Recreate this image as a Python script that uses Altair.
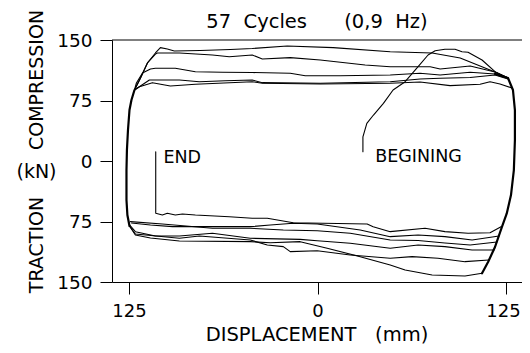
import altair as alt
import pandas as pd

# ---- data: displacement (mm) / load (kN) ----
# upper (compression) branches, left -> right
top_a_x = [-121.4, -117.4, -112.8, -107.5, -104.2, -99.6, -95.0, -77.8, -57.8, -43.3, -20.1, 10.4, 48.2, 76.0, 94.6, 117.7, 126.3]
top_a_y = [88.0, 102.9, 121.5, 133.9, 140.5, 138.8, 136.4, 137.0, 138.2, 139.5, 142.6, 140.5, 135.5, 133.9, 127.7, 110.3, 102.9]
top_b_x = [-121.4, -117.4, -112.8, -107.5, -106.2, -91.6, -69.7, -58.5, -43.3, -36.6, -18.1, 1.8, 31.6, 48.2, 74.7, 81.3, 101.2, 117.7, 126.3]
top_b_y = [88.0, 102.9, 121.5, 132.5, 133.9, 133.9, 131.4, 129.3, 131.4, 126.4, 128.1, 125.2, 119.0, 116.9, 116.9, 114.0, 117.8, 110.3, 102.9]
top_c_x = [-121.4, -120.1, -116.1, -110.8, -107.5, -94.3, -81.0, -63.1, -43.3, -18.1, -8.1, 15.0, 48.2, 68.0, 81.3, 101.2, 117.7, 126.3]
top_c_y = [88.0, 96.7, 109.1, 114.1, 114.9, 114.9, 110.7, 110.0, 109.7, 108.7, 105.7, 105.7, 106.6, 108.7, 106.6, 110.0, 107.8, 102.9]
top_d_x = [-121.4, -119.4, -111.5, -91.6, -78.4, -61.1, -43.3, -36.6, 1.8, 48.2, 68.0, 81.3, 101.2, 117.7, 126.3]
top_d_y = [88.0, 90.5, 100.4, 100.4, 98.3, 99.5, 100.4, 97.1, 96.3, 98.3, 101.6, 102.5, 103.5, 106.6, 101.7]
top_e_x = [-121.4, -118.1, -109.5, -97.6, -81.0, -43.3, -36.6, 1.8, 48.2, 68.0, 87.9, 107.8, 114.4, 121.0, 128.9]
top_e_y = [88.0, 92.1, 97.1, 93.0, 95.1, 98.3, 96.3, 95.5, 96.3, 98.0, 93.4, 95.1, 98.3, 95.5, 90.5]

# first loading (BEGINING)
begin_x = [30.1, 30.1, 32.7, 37.1, 43.7, 50.1, 58.1, 66.7, 73.3, 78.0, 84.5, 91.2, 95.8, 99.8, 109.1, 117.7, 126.3]
begin_y = [11.5, 29.8, 46.7, 57.0, 71.5, 88.0, 98.3, 116.9, 131.4, 136.7, 138.5, 138.5, 135.5, 134.8, 125.2, 110.7, 102.9]

# unloading at the right end
right_x = [117.7, 126.3, 129.6, 130.9, 130.9, 130.2, 128.3, 125.5, 122.3, 117.7, 113.1, 109.1]
right_y = [108.0, 102.9, 88.0, 63.2, 26.0, -11.2, -42.2, -65.0, -81.8, -106.6, -125.2, -139.2]

# lower (traction) branches, right -> left
bot_end_x = [121.7, 114.4, 99.8, 84.5, 71.3, 48.2, 36.9, 32.9, -16.1, -33.3, -43.3, -58.5, -81.0, -89.6, -94.3, -99.6, -102.9, -107.3, -107.3]
bot_end_y = [-81.4, -88.9, -89.6, -87.6, -83.4, -87.6, -81.4, -78.1, -76.5, -71.0, -71.0, -69.1, -66.9, -65.7, -66.9, -64.8, -66.9, -64.8, 11.5]
bot_1_x = [120.4, 102.5, 84.5, 66.7, 48.2, 28.3, -0.2, -16.1, -31.3, -44.6, -69.7, -96.2, -110.8, -123.4]
bot_1_y = [-93.0, -97.9, -93.8, -91.7, -93.8, -85.5, -78.1, -77.2, -79.3, -81.4, -81.4, -81.4, -79.3, -76.9]
bot_2_x = [119.0, 101.2, 84.5, 66.7, 48.2, 21.7, -0.2, -22.7, -44.6, -69.7, -102.9, -124.1]
bot_2_y = [-100.4, -104.1, -101.6, -98.6, -97.9, -89.6, -86.4, -85.5, -83.4, -83.4, -78.1, -75.2]
bot_3_x = [117.0, 102.5, 84.5, 66.7, 48.2, 21.7, -0.2, -11.5, -44.6, -69.7, -91.6, -107.5, -120.8, -124.7]
bot_3_y = [-110.3, -110.3, -106.2, -104.1, -108.2, -102.0, -98.8, -97.1, -95.8, -89.6, -93.0, -93.0, -87.6, -79.3]
bot_4_x = [113.6, 97.8, 79.9, 62.7, 48.2, 21.7, -0.2, -18.1, -22.7, -33.3, -44.6, -78.4, -91.6, -120.8, -124.7]
bot_4_y = [-122.7, -124.8, -120.6, -118.6, -120.6, -116.5, -111.2, -112.4, -106.2, -104.1, -97.9, -93.0, -95.8, -90.5, -80.6]
bot_5_x = [109.1, 97.8, 76.0, 58.1, 48.2, 28.3, 6.4, -11.5, -31.3, -44.6, -91.6, -110.8, -120.8, -124.7]
bot_5_y = [-139.2, -142.6, -141.3, -135.1, -128.9, -118.6, -108.2, -100.0, -101.3, -100.0, -99.2, -95.5, -91.7, -80.6]

# reloading at the left end
left_x = [-124.7, -126.1, -126.7, -126.7, -126.4, -125.7, -124.7, -123.4, -121.4]
left_y = [-80.6, -66.9, -48.3, -11.2, 13.6, 38.4, 63.2, 75.6, 88.0]

x_ticks = [-125, 0, 125]
y_ticks = [-150, -75, 0, 75, 150]

note_text = ["END", "BEGINING"]
note_x = [-102.2, 38.2]
note_y = [3.3, 5.3]

series = [
    ("A", top_a_x, top_a_y, 1.1), ("B", top_b_x, top_b_y, 1.1), ("C", top_c_x, top_c_y, 1.1),
    ("D", top_d_x, top_d_y, 1.1), ("E", top_e_x, top_e_y, 1.1), ("begin", begin_x, begin_y, 1.1),
    ("right", right_x, right_y, 2.2), ("end", bot_end_x, bot_end_y, 1.1), ("b1", bot_1_x, bot_1_y, 1.1),
    ("b2", bot_2_x, bot_2_y, 1.1), ("b3", bot_3_x, bot_3_y, 1.1), ("b4", bot_4_x, bot_4_y, 1.1),
    ("b5", bot_5_x, bot_5_y, 1.1), ("left", left_x, left_y, 2.2),
]
rows = []
for name, xs_, ys_, w in series:
    for i, (xv, yv) in enumerate(zip(xs_, ys_)):
        rows.append({"s": name, "i": i, "x": xv, "y": yv, "w": w})
df = pd.DataFrame(rows)

FONT = "DejaVu Sans"
NB = "\u00a0"

xscale = alt.Scale(domain=[-136.3, 135.6], nice=False, zero=False)
yscale = alt.Scale(domain=[-150, 150], nice=False, zero=False)

xaxis = alt.Axis(values=x_ticks, labelExpr="abs(datum.value)", title=None, grid=False,
                 tickSize=12, labelPadding=8, labelFontSize=18, labelFont=FONT,
                 labelColor="black", tickColor="black", domainColor="black",
                 labelFlush=False, labelBound=False,
                 labelOffset={"condition": {"test": "datum.value > 100", "value": -3}, "value": 0})
yaxis = alt.Axis(values=y_ticks, labelExpr="abs(datum.value)", title=None, grid=False,
                 tickSize=12, labelPadding=8, labelFontSize=18.5, labelFont=FONT,
                 labelColor="black", tickColor="black", domainColor="black",
                 labelFlush=False, labelBound=False)

lines = alt.Chart(df).mark_line(color="black", strokeJoin="round", strokeCap="round").encode(
    x=alt.X("x:Q", scale=xscale, axis=xaxis),
    y=alt.Y("y:Q", scale=yscale, axis=yaxis),
    detail="s:N",
    order="i:Q",
    strokeWidth=alt.StrokeWidth("w:Q", scale=None),
)

top_rule = alt.Chart(pd.DataFrame({"v": [150]})).mark_rule(color="black", strokeWidth=1).encode(
    y=alt.Y("v:Q", scale=yscale, axis=yaxis)
)

notes = alt.Chart(pd.DataFrame({"t": note_text, "lx": note_x, "ly": note_y})).mark_text(
    align="left", baseline="middle", font=FONT, fontSize=17.5, color="black"
).encode(
    x=alt.X("lx:Q", scale=xscale, axis=xaxis),
    y=alt.Y("ly:Q", scale=yscale, axis=yaxis),
    text="t:N",
)

dummy = pd.DataFrame({"a": [0]})

def ptext(txt, x, y, size, angle=0, baseline="alphabetic"):
    return alt.Chart(dummy).mark_text(
        align="center", baseline=baseline, font=FONT, fontSize=size, color="black", angle=angle
    ).encode(x=alt.value(x), y=alt.value(y), text=alt.value(txt))

title = ptext("57" + NB * 2 + "Cycles" + NB * 6 + "(0,9" + NB * 2 + "Hz)", 205, -11.7, 19.5)
xtitle = ptext("DISPLACEMENT" + NB * 3 + "(mm)", 205, 301, 19.5)
comp = ptext("COMPRESSION", -75, 40, 19, angle=270, baseline="middle")
trac = ptext("TRACTION", -75, 205, 19, angle=270, baseline="middle")
kn = ptext("(kN)", -75.5, 132, 19, baseline="middle")

chart = alt.layer(lines, top_rule, notes, title, xtitle, comp, trac, kn).properties(
    width=410, height=242, autosize="none",
    padding={"left": 104, "top": 32, "right": 0, "bottom": 63},
).configure_view(stroke=None)

chart.save("out.html", embed_options={"renderer": "svg", "actions": False})
